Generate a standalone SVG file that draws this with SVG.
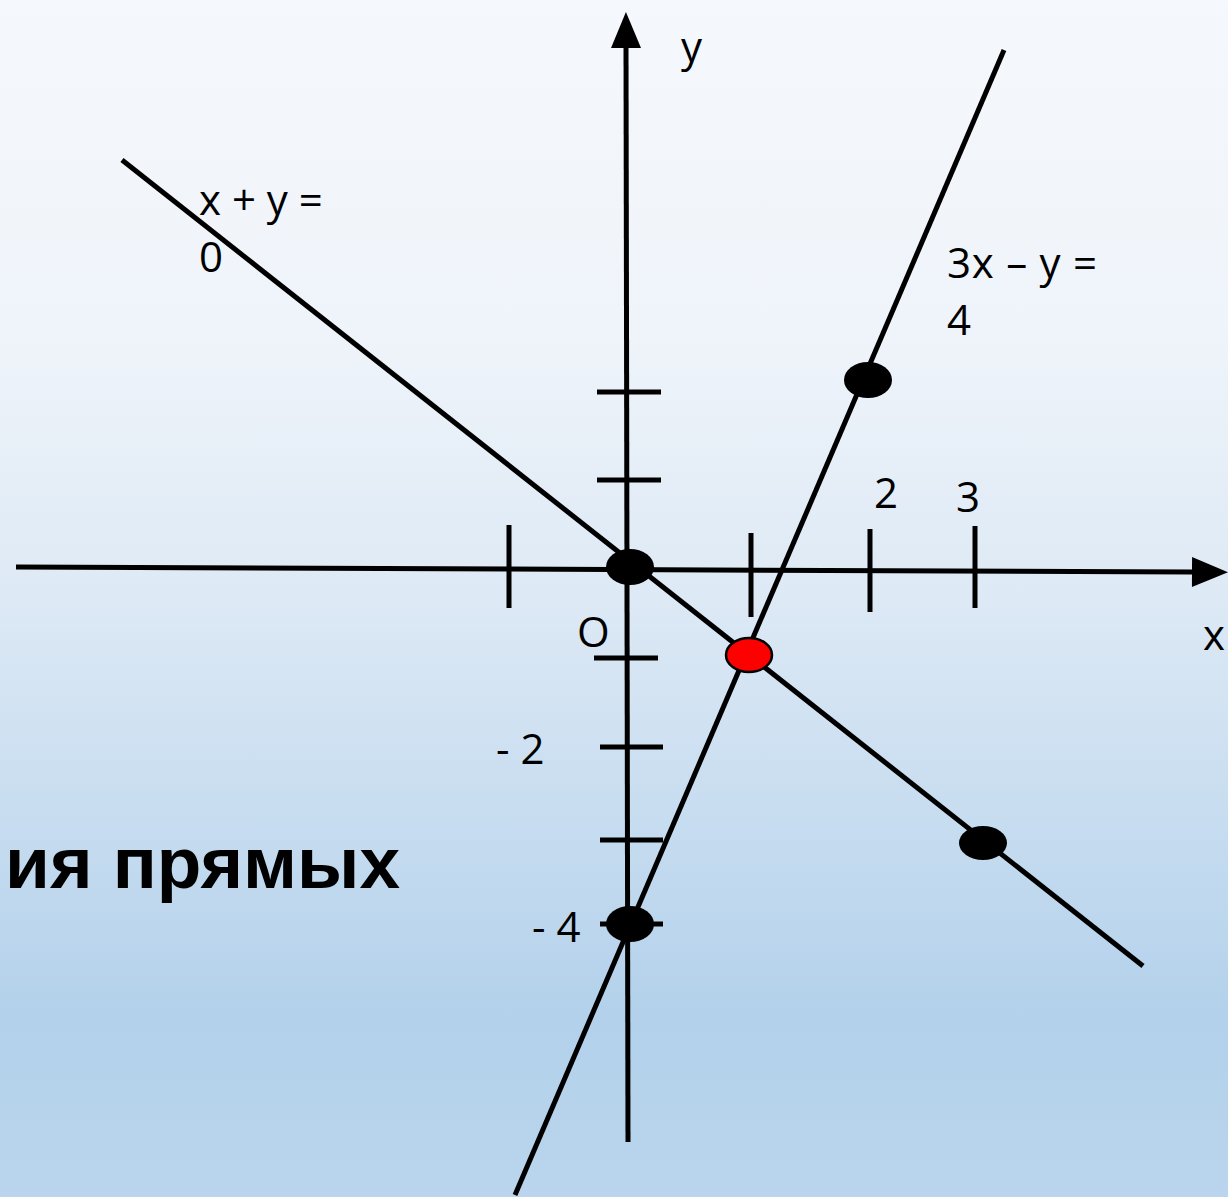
<svg xmlns="http://www.w3.org/2000/svg" width="1228" height="1197" viewBox="0 0 1228 1197">
<defs>
<linearGradient id="bg" x1="0" y1="0" x2="0" y2="1">
<stop offset="0" stop-color="#f5f8fc"/>
<stop offset="0.28" stop-color="#eff4fa"/>
<stop offset="0.5" stop-color="#dde9f5"/>
<stop offset="0.85" stop-color="#b3d1eb"/>
<stop offset="1" stop-color="#bad5ed"/>
</linearGradient>
<marker id="arr" viewBox="0 0 12 10" refX="0" refY="5" markerWidth="7.4" markerHeight="6" markerUnits="strokeWidth" orient="auto">
<path d="M0,0 L12,5 L0,10 z" fill="#000"/>
</marker>
<style>
.ln{stroke:#000;stroke-width:5;fill:none}
.tk{stroke:#000;stroke-width:5}
.t{font-family:"Open Sans","Noto Sans",sans-serif;font-size:42px;fill:#000}
.dot{fill:#000}
.b{font-family:"Liberation Sans",Arial,sans-serif;font-weight:bold;font-size:73px;fill:#000}
</style>
</defs>
<rect width="1228" height="1197" fill="url(#bg)"/>
<text class="b" x="5" y="888">ия прямых</text>
<g id="connectors">
<line id="x-axis" class="ln" x1="16" y1="567" x2="1192" y2="572" marker-end="url(#arr)"/>
<line id="y-axis" class="ln" x1="628" y1="1142" x2="626" y2="48" marker-end="url(#arr)"/>
<line id="line1" class="ln" x1="122" y1="160" x2="1143" y2="966"/>
<line id="line2" class="ln" x1="1004" y1="50" x2="515" y2="1195"/>
</g>
<g id="ticks">
<line class="tk" x1="509" y1="525" x2="509" y2="608"/>
<line class="tk" x1="751" y1="533" x2="751" y2="617"/>
<line class="tk" x1="870" y1="529" x2="870" y2="612"/>
<line class="tk" x1="975" y1="526" x2="975" y2="608"/>
<line class="tk" x1="597" y1="392" x2="661" y2="392"/>
<line class="tk" x1="597" y1="480" x2="661" y2="480"/>
<line class="tk" x1="594" y1="658" x2="658" y2="658"/>
<line class="tk" x1="600" y1="747" x2="663" y2="747"/>
<line class="tk" x1="600" y1="840" x2="663" y2="840"/>
<line class="tk" x1="600" y1="924" x2="663" y2="924"/>
</g>
<g id="points">
<ellipse id="p-origin" class="dot" cx="630" cy="567" rx="24" ry="18"/>
<ellipse id="p-a" class="dot" cx="868" cy="380" rx="24" ry="18"/>
<ellipse id="p-b" class="dot" cx="983" cy="843" rx="24" ry="17"/>
<ellipse id="p-c" class="dot" cx="630" cy="924" rx="24" ry="18"/>
<ellipse id="p-int" cx="749" cy="655" rx="23" ry="17" fill="#ff0000" stroke="#000" stroke-width="2.5"/>
</g>
<g id="labels">
<text class="t" x="681" y="62">y</text>
<text class="t" x="1203" y="650">x</text>
<text class="t" x="577" y="647">O</text>
<text class="t" x="874" y="508">2</text>
<text class="t" x="956" y="512">3</text>
<text class="t" x="496" y="764">- 2</text>
<text class="t" x="532" y="942">- 4</text>
<text class="t" x="199" y="215">x + y =</text>
<text class="t" x="199" y="272">0</text>
<text class="t" x="947" y="278" textLength="150" lengthAdjust="spacing">3x – y =</text>
<text class="t" x="947" y="335">4</text>
</g>
</svg>
